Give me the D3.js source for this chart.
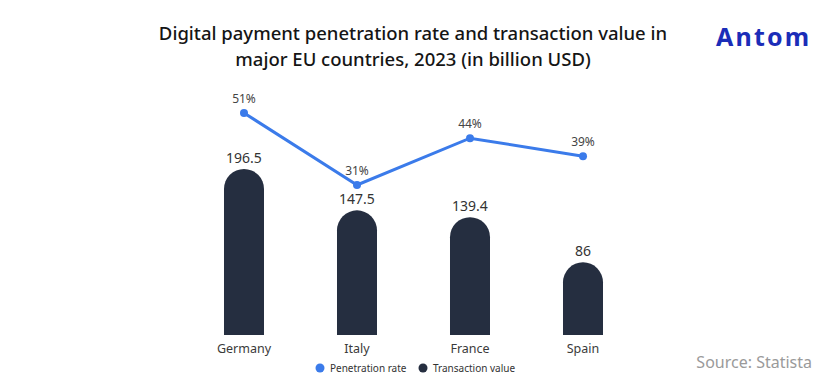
<!DOCTYPE html>
<html>
<head>
<meta charset="utf-8">
<script src="https://cdn.jsdelivr.net/npm/d3@7"></script>
<style>
  body { margin: 0; background: #fff; }
  text { font-family: "Noto Sans", sans-serif; }
</style>
</head>
<body>
<div id="chart"></div>
<script>
// data
var countries = ["Germany", "Italy", "France", "Spain"];
var transactionValue = [196.5, 147.5, 139.4, 86];
var penetrationRate = [51, 31, 44, 39];
var valueLabels = ["196.5", "147.5", "139.4", "86"];
var rateLabels = ["51%", "31%", "44%", "39%"];

var W = 828, H = 386;
var barColor = "#252e40", lineColor = "#3b7bea";

var svg = d3.select("#chart").append("svg")
  .attr("width", W).attr("height", H);

// title
var title = ["Digital payment penetration rate and transaction value in",
             "major EU countries, 2023 (in billion USD)"];
svg.selectAll(".title")
  .data(title)
  .enter().append("text")
  .attr("class", "title")
  .attr("x", 413).attr("y", function(d, i) { return 40 + i * 26; })
  .attr("text-anchor", "middle")
  .attr("font-family", "Noto Sans CJK SC, Noto Sans, sans-serif")
  .attr("font-size", 18.5).attr("font-weight", 500).attr("fill", "#151515")
  .text(function(d) { return d; });

// logo
svg.append("text")
  .attr("x", 716).attr("y", 46)
  .attr("font-size", 25).attr("font-weight", 700).attr("fill", "#1b2db8")
  .attr("letter-spacing", 2.2)
  .text("Antom");

// scales
var x = d3.scaleBand()
  .domain(countries)
  .range([151, 676])
  .padding(0.646);

var yBar = d3.scaleLinear()
  .domain([0, 200])
  .range([335, 166]);

var yLine = d3.scaleLinear()
  .domain([0, 60])
  .range([296.6, 80.6]);

// bars with round top
var bw = x.bandwidth(), r = bw / 2;
svg.selectAll(".bar")
  .data(countries)
  .enter().append("path")
  .attr("class", "bar")
  .attr("fill", barColor)
  .attr("d", function(d, i) {
    var x0 = x(d), yb = yBar(0), yt = yBar(transactionValue[i]);
    return "M" + x0 + "," + yb +
      "L" + x0 + "," + (yt + r) +
      "A" + r + "," + r + " 0 0 1 " + (x0 + bw) + "," + (yt + r) +
      "L" + (x0 + bw) + "," + yb + "Z";
  });

svg.selectAll(".vlabel")
  .data(countries)
  .enter().append("text")
  .attr("class", "vlabel")
  .attr("x", function(d) { return x(d) + r; })
  .attr("y", function(d, i) { return yBar(transactionValue[i]) - 6; })
  .attr("text-anchor", "middle")
  .attr("font-size", 14).attr("fill", "#333")
  .text(function(d, i) { return valueLabels[i]; });

// x axis labels
var xAxis = svg.append("g")
  .attr("transform", "translate(0," + 335 + ")")
  .call(d3.axisBottom(x).tickSize(0).tickPadding(9));
xAxis.select(".domain").remove();
xAxis.selectAll("text")
  .attr("font-size", 12.5).attr("fill", "#3a3a3a")
  .attr("font-family", "Noto Sans, sans-serif");

// line
var line = d3.line()
  .x(function(d, i) { return x(countries[i]) + r; })
  .y(function(d) { return yLine(d); });

svg.append("path")
  .datum(penetrationRate)
  .attr("fill", "none")
  .attr("stroke", lineColor)
  .attr("stroke-width", 3)
  .attr("d", line);

svg.selectAll(".dot")
  .data(penetrationRate)
  .enter().append("circle")
  .attr("cx", function(d, i) { return x(countries[i]) + r; })
  .attr("cy", function(d) { return yLine(d); })
  .attr("r", 4)
  .attr("fill", lineColor);

svg.selectAll(".rlabel")
  .data(penetrationRate)
  .enter().append("text")
  .attr("class", "rlabel")
  .attr("x", function(d, i) { return x(countries[i]) + r; })
  .attr("y", function(d) { return yLine(d) - 10; })
  .attr("text-anchor", "middle")
  .attr("font-size", 12).attr("fill", "#444")
  .text(function(d, i) { return rateLabels[i]; });

// legend
var legend = [
  {name: "Penetration rate", color: lineColor, x: 320},
  {name: "Transaction value", color: barColor, x: 423}
];
var lg = svg.selectAll(".legend")
  .data(legend)
  .enter().append("g")
  .attr("transform", function(d) { return "translate(" + d.x + ",368)"; });
lg.append("circle").attr("r", 4.5).attr("fill", function(d) { return d.color; });
lg.append("text")
  .attr("x", 10).attr("y", 3.5)
  .attr("font-size", 10).attr("fill", "#333")
  .text(function(d) { return d.name; });

// source
svg.append("text")
  .attr("x", 812).attr("y", 368)
  .attr("text-anchor", "end")
  .attr("font-size", 16).attr("fill", "#9a9a9a")
  .text("Source: Statista");
</script>
</body>
</html>
